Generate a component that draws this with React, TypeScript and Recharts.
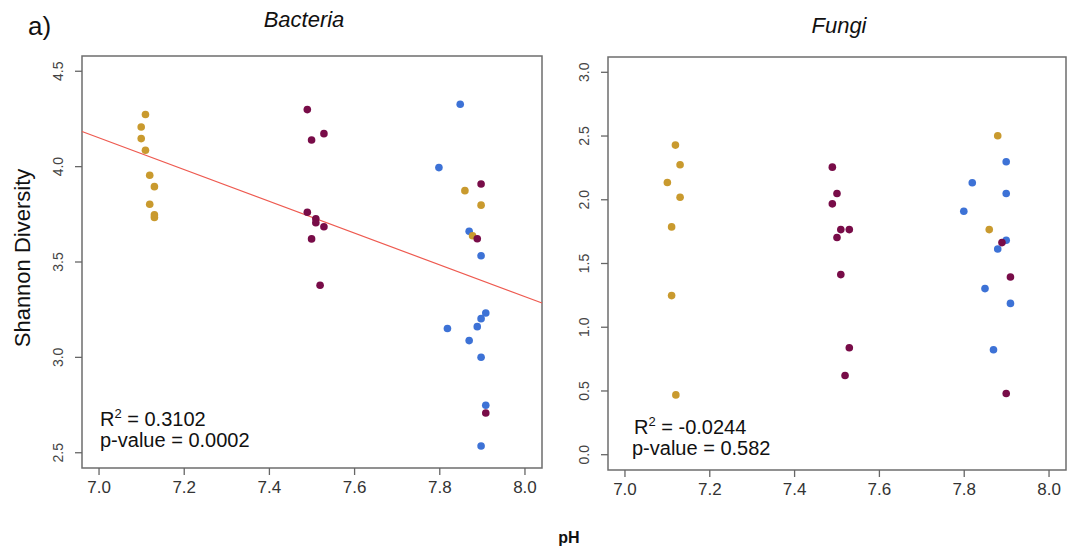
import React from "react";
import {
  ScatterChart,
  Scatter,
  XAxis,
  YAxis,
  ReferenceArea,
  ReferenceLine,
} from "recharts";

// ---- Data ----
const phTicks = [7.0, 7.2, 7.4, 7.6, 7.8, 8.0];
const bacTicks = [2.5, 3.0, 3.5, 4.0, 4.5];
const fungiTicks = [0.0, 0.5, 1.0, 1.5, 2.0, 2.5, 3.0];

const bacGoldPH = [7.109, 7.099, 7.099, 7.109, 7.119, 7.13, 7.119, 7.13, 7.13, 7.859, 7.897, 7.877];
const bacGoldH = [4.273, 4.208, 4.147, 4.086, 3.955, 3.895, 3.803, 3.747, 3.733, 3.874, 3.798, 3.638];
const bacPurplePH = [7.489, 7.528, 7.499, 7.489, 7.509, 7.509, 7.528, 7.499, 7.519, 7.897, 7.888, 7.908];
const bacPurpleH = [4.299, 4.173, 4.14, 3.761, 3.727, 3.706, 3.685, 3.621, 3.378, 3.909, 3.622, 2.708];
const bacBluePH = [7.848, 7.798, 7.869, 7.897, 7.908, 7.897, 7.888, 7.818, 7.869, 7.897, 7.908, 7.897];
const bacBlueH = [4.327, 3.995, 3.661, 3.533, 3.233, 3.203, 3.161, 3.151, 3.088, 3.001, 2.749, 2.535];

const funGoldPH = [7.119, 7.13, 7.1, 7.13, 7.11, 7.11, 7.12, 7.879, 7.859];
const funGoldH = [2.429, 2.275, 2.136, 2.02, 1.787, 1.248, 0.469, 2.502, 1.766];
const funPurplePH = [7.489, 7.5, 7.489, 7.509, 7.529, 7.5, 7.509, 7.529, 7.519, 7.909, 7.899, 7.889];
const funPurpleH = [2.256, 2.049, 1.968, 1.766, 1.766, 1.704, 1.413, 0.839, 0.621, 1.394, 0.48, 1.664];
const funBluePH = [7.899, 7.819, 7.899, 7.799, 7.899, 7.879, 7.849, 7.909, 7.869];
const funBlueH = [2.298, 2.133, 2.049, 1.91, 1.682, 1.614, 1.303, 1.187, 0.823];

const bacFitX = [6.96, 8.04];
const bacFitY = [4.184, 3.285];

const phDomain = [6.96, 8.04];
const bacDomain = [2.42, 4.58];
const fungiDomain = [-0.12, 3.12];

const GOLD = "#C99A2E";
const PURPLE = "#780C48";
const BLUE = "#3D72D6";
const FONT = "'Liberation Sans', Arial, Helvetica, sans-serif";

const zip = (xs: number[], ys: number[]) => xs.map((x, i) => ({ x, y: ys[i] }));

const dot = (color: string) => (props: any) => {
  const { cx, cy } = props;
  if (cx == null || cy == null) return <g />;
  return <circle cx={cx} cy={cy} r={3.8} fill={color} />;
};

const YTick = (props: any) => {
  const { x, y, payload } = props;
  const cx = x - 17;
  return (
    <text
      x={cx}
      y={y}
      transform={`rotate(-90, ${cx}, ${y})`}
      textAnchor="middle"
      dy="0.35em"
      fontSize={14}
      fill="#444"
      fontFamily={FONT}
    >
      {Number(payload.value).toFixed(1)}
    </text>
  );
};

interface PanelProps {
  width: number;
  margin: { top: number; right: number; left: number; bottom: number };
  yWidth: number;
  xHeight: number;
  yDomain: number[];
  yTicks: number[];
  gold: { x: number; y: number }[];
  purple: { x: number; y: number }[];
  blue: { x: number; y: number }[];
  fit?: boolean;
}

const Panel = (p: PanelProps) => (
  <ScatterChart width={p.width} height={551} margin={p.margin}>
    <XAxis
      type="number"
      dataKey="x"
      domain={phDomain}
      ticks={phTicks}
      allowDataOverflow
      height={p.xHeight}
      axisLine={false}
      tickSize={7}
      tickMargin={6}
      tickLine={{ stroke: "#666", strokeWidth: 1.3 }}
      tick={{ fontSize: 17, fill: "#333", fontFamily: FONT }}
      tickFormatter={(v: number) => v.toFixed(1)}
    />
    <YAxis
      type="number"
      dataKey="y"
      domain={p.yDomain}
      ticks={p.yTicks}
      allowDataOverflow
      width={p.yWidth}
      axisLine={false}
      tickSize={7}
      tickMargin={0}
      tickLine={{ stroke: "#666", strokeWidth: 1.3 }}
      tick={<YTick />}
    />
    <ReferenceArea
      x1={phDomain[0]}
      x2={phDomain[1]}
      y1={p.yDomain[0]}
      y2={p.yDomain[1]}
      fill="none"
      fillOpacity={0}
      stroke="#6e6e6e"
      strokeWidth={1.5}
      ifOverflow="visible"
    />
    {p.fit && (
      <ReferenceLine
        segment={[
          { x: bacFitX[0], y: bacFitY[0] },
          { x: bacFitX[1], y: bacFitY[1] },
        ]}
        stroke="#EE5A50"
        strokeWidth={1.2}
        ifOverflow="visible"
      />
    )}
    <Scatter data={p.blue} shape={dot(BLUE)} isAnimationActive={false} />
    <Scatter data={p.gold} shape={dot(GOLD)} isAnimationActive={false} />
    <Scatter data={p.purple} shape={dot(PURPLE)} isAnimationActive={false} />
  </ScatterChart>
);

export default function App() {
  return (
    <div
      style={{
        position: "absolute",
        left: 0,
        top: 0,
        width: 1070,
        height: 551,
        background: "#fff",
        fontFamily: FONT,
      }}
    >
      <div style={{ position: "absolute", left: 0, top: 0 }}>
        <Panel
          width={560}
          margin={{ top: 56, right: 18, left: 0, bottom: 0 }}
          yWidth={82}
          xHeight={83}
          yDomain={bacDomain}
          yTicks={bacTicks}
          gold={zip(bacGoldPH, bacGoldH)}
          purple={zip(bacPurplePH, bacPurpleH)}
          blue={zip(bacBluePH, bacBlueH)}
          fit
        />
      </div>
      <div style={{ position: "absolute", left: 560, top: 0 }}>
        <Panel
          width={510}
          margin={{ top: 57, right: 4, left: 0, bottom: 0 }}
          yWidth={48}
          xHeight={81}
          yDomain={fungiDomain}
          yTicks={fungiTicks}
          gold={zip(funGoldPH, funGoldH)}
          purple={zip(funPurplePH, funPurpleH)}
          blue={zip(funBluePH, funBlueH)}
        />
      </div>
      <svg
        width={1070}
        height={551}
        style={{ position: "absolute", left: 0, top: 0, pointerEvents: "none" }}
        fontFamily={FONT}
      >
        <text x={28} y={35} fontSize={26} fill="#111">a)</text>
        <text x={304} y={27} fontSize={22} fontStyle="italic" textAnchor="middle" fill="#111">
          Bacteria
        </text>
        <text x={839} y={33} fontSize={22} fontStyle="italic" textAnchor="middle" fill="#111">
          Fungi
        </text>
        <text
          x={22}
          y={258}
          fontSize={22}
          textAnchor="middle"
          dy="0.35em"
          transform="rotate(-90, 22, 258)"
          fill="#111"
        >
          Shannon Diversity
        </text>
        <text x={569} y={543} fontSize={16} fontWeight="bold" textAnchor="middle" fill="#111">
          pH
        </text>
        <text x={100} y={426} fontSize={20} fill="#111">
          R<tspan fontSize={13} dy={-8}>2</tspan>
          <tspan dy={8}> = 0.3102</tspan>
        </text>
        <text x={100} y={447} fontSize={20} fill="#111">p-value = 0.0002</text>
        <text x={634} y={434} fontSize={20} fill="#111">
          R<tspan fontSize={13} dy={-8}>2</tspan>
          <tspan dy={8}> = -0.0244</tspan>
        </text>
        <text x={632} y={455} fontSize={20} fill="#111">p-value = 0.582</text>
      </svg>
    </div>
  );
}
